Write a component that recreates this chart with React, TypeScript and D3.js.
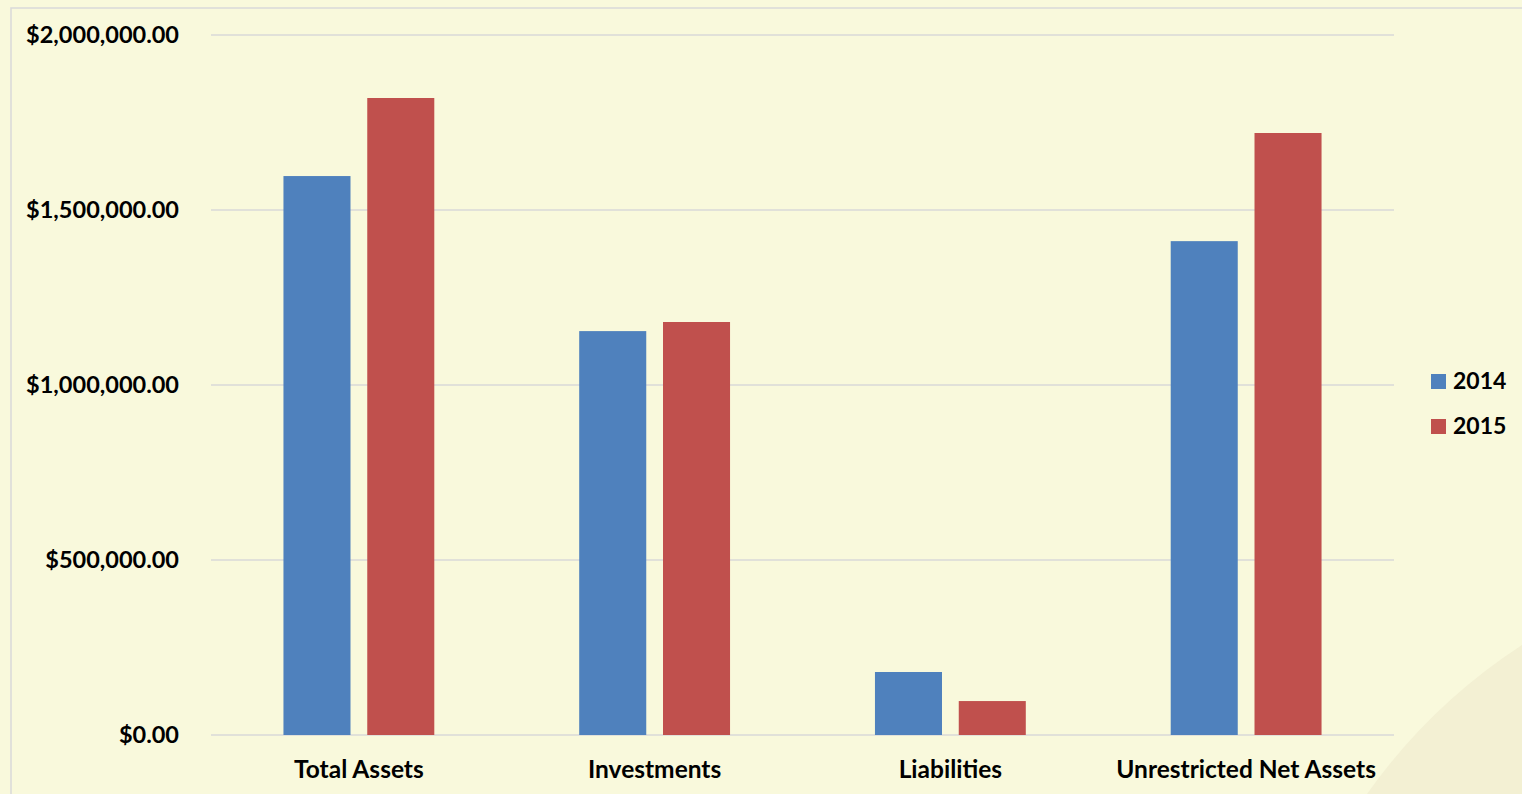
import React, { useEffect, useRef } from 'react';
import * as d3 from 'd3';

const categories = ['Total Assets', 'Investments', 'Liabilities', 'Unrestricted Net Assets'];
const years = ['2014', '2015'];
const values2014 = [1597000, 1154000, 180000, 1411000];
const values2015 = [1820000, 1180000, 97000, 1720000];
const yTicks = [0, 500000, 1000000, 1500000, 2000000];
const colors = ['#4f81bd', '#c0504d'];

const App = () => {
  const svgRef: any = useRef();

  useEffect(() => {
    const width = 1522;
    const height = 794;
    const font = 'Lato, "Open Sans", sans-serif';
    const svg = d3.select(svgRef.current).attr('width', width).attr('height', height);
    svg.selectAll('*').remove();

    // background
    svg.append('rect').attr('width', width).attr('height', height).attr('fill', '#f9f9dc');
    svg.append('path')
      .attr('d', 'M1367,794 Q1430,705 1522,645 L1522,794 Z')
      .attr('fill', '#f3f0d3');
    svg.append('rect')
      .attr('x', 11).attr('y', 8).attr('width', width).attr('height', height)
      .attr('fill', 'none').attr('stroke', '#d9d9d9').attr('stroke-width', 1.5);

    const left = 211, right = 1394, top = 35, bottom = 735;

    const y = d3.scaleLinear().domain([0, 2000000]).range([bottom, top]);
    const x0 = d3.scaleBand().domain(categories).range([left, right]).paddingInner(0.49).paddingOuter(0.245);
    const x1 = d3.scaleBand().domain(years).range([0, x0.bandwidth()]).paddingInner(0.2);

    const fmt = d3.format('$,.2f');

    // gridlines
    svg.append('g').selectAll('line').data(yTicks).join('line')
      .attr('x1', left).attr('x2', right)
      .attr('y1', (d) => y(d)).attr('y2', (d) => y(d))
      .attr('stroke', '#d9d9d9').attr('stroke-width', 1.5);

    svg.append('g').selectAll('text').data(yTicks).join('text')
      .attr('x', 179).attr('y', (d) => y(d) + 8)
      .attr('text-anchor', 'end')
      .attr('font-family', font).attr('font-weight', 'bold').attr('font-size', 23.5)
      .attr('fill', '#000')
      .text((d) => fmt(d));

    const series = [values2014, values2015];
    const groups = svg.append('g').selectAll('g').data(categories).join('g')
      .attr('transform', (d) => `translate(${x0(d)},0)`);
    groups.selectAll('rect').data((d, i) => years.map((yr, s) => ({ yr, v: series[s][i], s }))).join('rect')
      .attr('x', (d) => x1(d.yr) as number)
      .attr('width', x1.bandwidth())
      .attr('y', (d) => y(d.v))
      .attr('height', (d) => bottom - y(d.v))
      .attr('fill', (d) => colors[d.s]);

    svg.append('g').selectAll('text').data(categories).join('text')
      .attr('x', (d) => (x0(d) as number) + x0.bandwidth() / 2)
      .attr('y', 778)
      .attr('text-anchor', 'middle')
      .attr('font-family', font).attr('font-weight', 'bold').attr('font-size', 24.5)
      .attr('fill', '#000')
      .text((d) => d);

    // legend
    const legend = svg.append('g').selectAll('g').data(years).join('g')
      .attr('transform', (d, i) => `translate(1431,${374 + i * 45})`);
    legend.append('rect').attr('width', 15).attr('height', 15).attr('fill', (d, i) => colors[i]);
    legend.append('text').attr('x', 22).attr('y', 15)
      .attr('font-family', font).attr('font-weight', 'bold').attr('font-size', 23)
      .attr('fill', '#000').text((d) => d);
  }, []);

  return <svg ref={svgRef} style={{ position: 'absolute', left: 0, top: 0 }}></svg>;
};

export default App;
